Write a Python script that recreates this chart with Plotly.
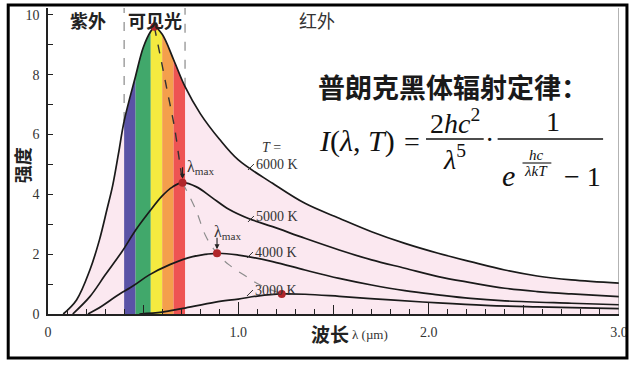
import plotly.graph_objects as go

# ---------------- data ----------------
lam_6000 = [0.08, 0.15, 0.22, 0.27, 0.31, 0.34, 0.37, 0.40, 0.46, 0.50, 0.54, 0.56, 0.60,
            0.66, 0.72, 0.80, 0.90, 1.00, 1.18, 1.35, 1.53, 1.70, 1.875, 2.05, 2.22, 2.40,
            2.57, 2.75, 3.00]
I_6000 = [0.0, 0.47, 1.47, 2.47, 3.5, 4.3, 5.35, 6.45, 7.95, 8.9, 9.45, 9.6, 9.35,
          8.5, 7.6, 6.7, 5.85, 5.15, 4.37, 3.70, 3.20, 2.75, 2.36, 2.03, 1.75, 1.47,
          1.27, 1.14, 1.03]

lam_5000 = [0.13, 0.22, 0.30, 0.39, 0.46, 0.53, 0.60, 0.655, 0.707, 0.78, 0.86, 0.95, 1.05,
            1.18, 1.35, 1.53, 1.70, 1.875, 2.05, 2.22, 2.40, 2.57, 2.75, 3.00]
I_5000 = [0.0, 0.58, 1.3, 2.1, 2.8, 3.4, 3.95, 4.25, 4.39, 4.25, 3.9, 3.5, 3.2,
          2.92, 2.53, 2.14, 1.81, 1.53, 1.25, 1.05, 0.86, 0.75, 0.67, 0.58]

lam_4000 = [0.21, 0.28, 0.36, 0.45, 0.53, 0.64, 0.76, 0.888, 1.00, 1.18, 1.35, 1.53, 1.70,
            1.875, 2.05, 2.22, 2.40, 2.75, 3.00]
I_4000 = [0.0, 0.25, 0.6, 0.95, 1.3, 1.65, 1.92, 2.03, 1.97, 1.75, 1.47, 1.19, 0.97,
          0.78, 0.64, 0.52, 0.44, 0.36, 0.31]

lam_3000 = [0.48, 0.60, 0.71, 0.88, 1.00, 1.10, 1.228, 1.35, 1.53, 1.80, 2.05, 2.30, 2.57, 3.00]
I_3000 = [0.0, 0.06, 0.19, 0.40, 0.50, 0.60, 0.67, 0.66, 0.59, 0.47, 0.37, 0.29, 0.24, 0.18]

peak_lam = [0.559, 0.707, 0.888, 1.228]
peak_I = [9.6, 4.39, 2.03, 0.67]

locus_upper_lam = [0.559, 0.594, 0.629, 0.664, 0.69, 0.707]
locus_upper_I = [9.6, 8.5, 7.38, 6.26, 5.15, 4.39]
locus_lower_lam = [0.707, 0.777, 0.83, 0.888, 0.95, 1.03, 1.12, 1.228]
locus_lower_I = [4.39, 3.48, 2.59, 2.03, 1.65, 1.3, 0.95, 0.67]

band_edges = [0.40, 0.46, 0.54, 0.60, 0.66, 0.72]
band_colors = ["#5a53a6", "#41a86b", "#f4ea40", "#f49f4c", "#ee5453"]

temp_labels = ["6000 K", "5000 K", "4000 K", "3000 K"]
x_tickvals = [0, 0.5, 1.0, 1.5, 2.0, 2.5, 3.0]
x_ticktext = ["0", "", "1.0", "", "2.0", "", "3.0"]
y_tickvals = [0, 2, 4, 6, 8, 10]
y_ticktext = ["0", "2", "4", "6", "8", "10"]

X_RANGE = [0, 3.0]
Y_RANGE = [0, 10.23]

# ---------------- layout helpers ----------------
W, H = 636, 370
ML, MR, MT, MB = 48, 14, 8, 56
PW, PH = W - ML - MR, H - MT - MB


def P(px, py):
    return (px - ML) / PW, (H - MB - py) / PH


SERIF = "Liberation Serif"
CJK = "Noto Sans CJK SC"
PINK = "#fbe8f0"

fig = go.Figure()

# pink area under the 6000 K curve
fig.add_trace(go.Scatter(x=lam_6000, y=I_6000, mode="lines", line=dict(width=0, shape="spline"),
                         fill="tozeroy", fillcolor=PINK, hoverinfo="skip", showlegend=False))

# visible-light colour bands under the 6000 K curve
for i, col in enumerate(band_colors):
    lo, hi = band_edges[i], band_edges[i + 1]
    xs = [l for l in lam_6000 if lo - 1e-9 <= l <= hi + 1e-9]
    ys = [I_6000[lam_6000.index(l)] for l in xs]
    fig.add_trace(go.Scatter(x=xs, y=ys, mode="lines", line=dict(width=0, shape="spline"),
                             fill="tozeroy", fillcolor=col, hoverinfo="skip", showlegend=False))

# dashed visible-range boundaries
for edge in (band_edges[0], band_edges[-1]):
    y_edge = I_6000[lam_6000.index(edge)]
    fig.add_trace(go.Scatter(x=[edge, edge], y=[y_edge, Y_RANGE[1]], mode="lines",
                             line=dict(color="#8a8a8a", width=1.2, dash="dash"),
                             hoverinfo="skip", showlegend=False))

# temperature curves
for lx, ly in ((lam_6000, I_6000), (lam_5000, I_5000), (lam_4000, I_4000), (lam_3000, I_3000)):
    fig.add_trace(go.Scatter(x=lx, y=ly, mode="lines",
                             line=dict(color="#1a1a1a", width=1.7, shape="spline"),
                             hoverinfo="skip", showlegend=False))

# lambda-max locus
fig.add_trace(go.Scatter(x=locus_upper_lam, y=locus_upper_I, mode="lines",
                         line=dict(color="#333333", width=1.4, dash="dash", shape="spline"),
                         hoverinfo="skip", showlegend=False))
fig.add_trace(go.Scatter(x=locus_lower_lam, y=locus_lower_I, mode="lines",
                         line=dict(color="#8c8c8c", width=1.2, dash="dash", shape="spline"),
                         hoverinfo="skip", showlegend=False))

# peak markers
fig.add_trace(go.Scatter(x=peak_lam, y=peak_I, mode="markers",
                         marker=dict(color="#b0262b", size=8),
                         hoverinfo="skip", showlegend=False))

# dummy trace for the tall tick overlay axis
fig.add_trace(go.Scatter(x=X_RANGE, y=[0, 0], xaxis="x2", mode="markers",
                         marker=dict(opacity=0), hoverinfo="skip", showlegend=False))

ann = []


def text(px, py, s, size, family=SERIF, xanchor="center", yanchor="middle", color="#222",
         angle=0):
    x, y = P(px, py)
    ann.append(dict(x=x, y=y, xref="paper", yref="paper", text=s, showarrow=False,
                    xanchor=xanchor, yanchor=yanchor, textangle=angle,
                    font=dict(family=family, size=size, color=color)))


# region labels
text(88, 20, "<b>紫外</b>", 18, CJK, color="#222")
text(156, 20, "<b>可见光</b>", 18, CJK, color="#222")
text(318, 20, "红外", 18, CJK, color="#333")

# axis titles
text(22, 165, "<b>强度</b>", 18, CJK, angle=-90)
text(331, 333, "<b>波长</b>", 19, CJK)
text(352, 334, "λ (µm)", 13, SERIF, xanchor="left", color="#333")

# temperature labels with short connectors
text(273, 147, "<i>T</i> =", 14, SERIF, color="#333")
label_heads = [(249, 170), (249, 222), (248, 258), (248, 296)]
for lab, (hx, hy) in zip(temp_labels, label_heads):
    x, y = P(hx, hy)
    ann.append(dict(x=x, y=y, xref="paper", yref="paper", text=lab, showarrow=True,
                    arrowhead=0, arrowwidth=1, arrowcolor="#333", ax=6, ay=-6,
                    xanchor="left", yanchor="middle", standoff=0,
                    font=dict(family=SERIF, size=14, color="#333")))

# lambda-max arrows and labels
for k, (tx, ty) in ((1, (186, 168)), (2, (213, 232))):
    ann.append(dict(x=peak_lam[k], y=peak_I[k], xref="x", yref="y", text="",
                    showarrow=True, arrowhead=2, arrowsize=0.9, arrowwidth=1.1,
                    arrowcolor="#222", ax=0, ay=-17, standoff=4))
    text(tx, ty, "λ<sub>max</sub>", 16, SERIF, xanchor="left", color="#333")

# Planck formula
text(317, 86, "<b>普朗克黑体辐射定律：</b>", 27, CJK, xanchor="left", color="#1a1a1a")
text(318, 141, "<i>I</i>(<i>λ</i>, <i>T</i>)", 30, SERIF, xanchor="left", color="#111")
text(414, 141, "=", 28, SERIF, color="#111")
text(457, 121, "2<i>hc</i><sup>2</sup>", 28, SERIF, color="#111")
text(457, 157, "<i>λ</i><sup>5</sup>", 28, SERIF, color="#111")
text(492, 139, "·", 28, SERIF, color="#111")
text(556, 121, "1", 28, SERIF, color="#111")
text(511, 175, "<i>e</i>", 30, SERIF, color="#111")
text(539, 155, "<i>hc</i>", 15, SERIF, color="#111")
text(539, 171, "<i>λkT</i>", 15, SERIF, color="#111")
text(585, 176, "− 1", 28, SERIF, color="#111")

shapes = []


def hline(px0, px1, py, w=1.5, color="#111"):
    x0, y0 = P(px0, py)
    x1, _ = P(px1, py)
    shapes.append(dict(type="line", xref="paper", yref="paper", x0=x0, x1=x1, y0=y0, y1=y0,
                       line=dict(color=color, width=w)))


hline(428, 486, 139)
hline(500, 606, 139)
hline(525, 554, 163, w=1.1)

# right edge of plot box
shapes.append(dict(type="line", xref="x", yref="paper", x0=X_RANGE[1], x1=X_RANGE[1], y0=0, y1=1,
                   line=dict(color="#666", width=1)))
# outer black frame
fx0, fy0 = P(8, 358)
fx1, fy1 = P(630, 5)
shapes.append(dict(type="rect", xref="paper", yref="paper", x0=fx0, x1=fx1, y0=fy0, y1=fy1,
                   line=dict(color="#000", width=3), layer="above"))

fig.update_layout(
    width=W, height=H,
    margin=dict(l=ML, r=MR, t=MT, b=MB),
    paper_bgcolor="white", plot_bgcolor="white",
    showlegend=False,
    annotations=ann, shapes=shapes,
    xaxis=dict(range=X_RANGE, showgrid=False, zeroline=False, showline=True,
               linecolor="#222", linewidth=1.5, ticks="inside", ticklen=9, tickwidth=1.2,
               tickcolor="#222", tickvals=x_tickvals, ticktext=x_ticktext,
               tickfont=dict(family=SERIF, size=14, color="#333"), ticklabelstandoff=4,
               minor=dict(dtick=0.1, tick0=0, ticks="inside", ticklen=5, tickwidth=1,
                          tickcolor="#222"),
               fixedrange=True),
    xaxis2=dict(range=X_RANGE, overlaying="x", anchor="y", side="bottom", showgrid=False,
                zeroline=False, showline=False, ticks="inside", ticklen=12, tickwidth=1.3,
                tickcolor="#222", tickvals=[1.0, 2.0], showticklabels=False, fixedrange=True),
    yaxis=dict(range=Y_RANGE, showgrid=False, zeroline=False, showline=True,
               linecolor="#222", linewidth=1.5, ticks="inside", ticklen=5, tickwidth=1.2,
               tickcolor="#222", tickvals=y_tickvals, ticktext=y_ticktext,
               tickfont=dict(family=SERIF, size=14, color="#333"), ticklabelstandoff=4,
               minor=dict(dtick=1, tick0=0, ticks="inside", ticklen=5, tickwidth=1,
                          tickcolor="#222"),
               fixedrange=True),
)

fig.write_html("out.html", config={"displayModeBar": False},
               post_script="document.body.style.margin='0';document.body.style.overflow='hidden';")
